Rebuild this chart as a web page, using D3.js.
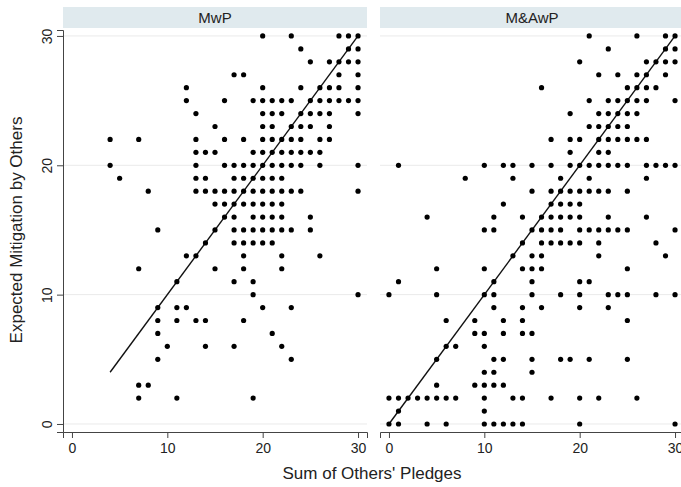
<!DOCTYPE html>
<html>
<head>
<meta charset="utf-8">
<script src="https://cdn.jsdelivr.net/npm/d3@7"></script>
<style>
  body { margin: 0; background: #fff; }
  svg text { font-family: "Liberation Sans", Arial, sans-serif; fill: #222; }
</style>
</head>
<body>
<div id="chart"></div>
<script>
// panel titles and the 45-degree reference line range in each
var panels = ["MwP", "M&AwP"];
var lineFrom = [4, 0];
var xTicks = [0, 10, 20, 30];
var yTicks = [0, 10, 20, 30];

// points per expected-mitigation value (y): list of pledge sums (x)
var mwpRows = {
  30: [20, 23, 28, 29, 30],
  29: [24, 29, 30],
  28: [25, 27, 28, 29, 30],
  27: [17, 18, 28, 30],
  26: [12, 20, 24, 26, 27, 28, 30],
  25: [12, 16, 19, 20, 21, 22, 23, 25, 26, 27, 28, 29, 30],
  24: [13, 20, 21, 22, 24, 25, 26, 27, 30],
  23: [15, 20, 21, 23, 24, 25, 27],
  22: [4, 7, 13, 16, 18, 20, 21, 22, 23, 24, 26, 27],
  21: [13, 14, 15, 19, 20, 21, 22, 23, 24, 25, 26],
  20: [4, 13, 16, 17, 18, 19, 20, 21, 22, 23, 24, 26, 30],
  19: [5, 13, 14, 17, 18, 19, 20, 21, 22],
  18: [8, 13, 14, 15, 16, 17, 18, 19, 20, 21, 22, 23, 24, 30],
  17: [15, 16, 17, 18, 19, 20, 21, 22],
  16: [16, 17, 19, 20, 21, 22, 25],
  15: [9, 15, 17, 18, 19, 20, 21, 22, 23, 25],
  14: [14, 17, 18, 19, 20, 21],
  13: [12, 13, 18, 22, 26],
  12: [7, 15, 18, 22],
  11: [11, 17, 19],
  10: [19, 30],
  9: [9, 11, 12, 20, 23],
  8: [9, 11, 13, 14, 18],
  7: [9, 21],
  6: [10, 14, 17, 22],
  5: [9, 23],
  3: [7, 8],
  2: [7, 11, 19]
};

var mawpRows = {
  30: [21, 26, 29, 30],
  29: [23, 29, 30],
  28: [20, 27, 28, 29, 30],
  27: [22, 24, 26, 27, 29],
  26: [16, 25, 26, 27, 28],
  25: [21, 23, 24, 25, 26, 27, 30],
  24: [19, 22, 23, 24, 25, 26],
  23: [21, 22, 23, 24, 25],
  22: [17, 19, 20, 22, 23, 24, 25, 26, 27],
  21: [19, 22, 23],
  20: [1, 10, 12, 13, 15, 17, 19, 20, 21, 22, 23, 24, 25, 27, 28, 29, 30],
  19: [8, 13, 18, 21, 27],
  18: [15, 17, 18, 19, 20, 21, 22, 23, 25],
  17: [12, 17, 18, 19, 20],
  16: [4, 11, 14, 16, 17, 18, 19, 20, 23, 27],
  15: [10, 11, 15, 16, 17, 18, 20, 21, 22, 23, 24, 25, 30],
  14: [14, 16, 17, 18, 19, 20, 22, 28],
  13: [13, 15, 16, 22, 29],
  12: [5, 10, 14, 15, 16, 25],
  11: [1, 11, 15, 20, 21],
  10: [0, 5, 10, 11, 15, 18, 20, 23, 24, 25, 28, 30],
  9: [11, 14, 16, 20, 23],
  8: [6, 9, 12, 14, 25],
  7: [9, 10, 12, 14, 15],
  6: [6, 7, 10],
  5: [5, 11, 12, 15, 18, 19, 21, 25],
  4: [10, 11, 15],
  3: [5, 9, 10, 11, 12],
  2: [0, 1, 2, 3, 4, 5, 6, 7, 10, 13, 14, 17, 20, 22, 26],
  1: [1, 10],
  0: [0, 1, 4, 6, 10, 11, 12, 13, 14, 20, 30]
};

var panelRows = [mwpRows, mawpRows];

// turn the row lists into point objects
function toPoints(rows) {
  var pts = [];
  Object.keys(rows).forEach(function(k) {
    rows[k].forEach(function(x) { pts.push({ x: x, y: +k }); });
  });
  return pts;
}

var width = 681, height = 487;
var panelLeft = [63, 380];
var panelW = 304;
var plotTop = 30, plotBottom = 432;

var svg = d3.select("#chart").append("svg")
  .attr("width", width)
  .attr("height", height);

var x = d3.scaleLinear().domain([-0.94, 30.94]).range([0, panelW]);
var y = d3.scaleLinear().domain([-0.62, 30.46]).range([plotBottom, plotTop]);

panels.forEach(function(name, i) {
  var g = svg.append("g").attr("transform", "translate(" + panelLeft[i] + ",0)");

  // header strip
  g.append("rect")
    .attr("x", 0).attr("y", 7)
    .attr("width", panelW).attr("height", 21)
    .attr("fill", "#e0eaee");
  g.append("text")
    .attr("x", panelW / 2).attr("y", 23)
    .attr("text-anchor", "middle")
    .style("font-size", "15px")
    .text(name);

  // horizontal grid lines
  g.selectAll(".grid")
    .data(yTicks)
    .enter().append("line")
    .attr("class", "grid")
    .attr("x1", 0).attr("x2", panelW)
    .attr("y1", function(d) { return y(d); })
    .attr("y2", function(d) { return y(d); })
    .attr("stroke", "#eaeaea")
    .attr("stroke-width", 1);

  // x axis
  var xAxis = g.append("g")
    .attr("transform", "translate(0," + plotBottom + ")")
    .call(d3.axisBottom(x).tickValues(xTicks).tickSize(6).tickPadding(5));
  xAxis.select(".domain").attr("stroke", "#444");
  xAxis.selectAll(".tick line").attr("stroke", "#444");
  xAxis.selectAll("text")
    .style("font-size", "14px")
    .style("font-family", "'Liberation Sans', Arial, sans-serif")
    .attr("fill", "#222");

  // y axis only on the first panel
  if (i === 0) {
    var yAxis = g.append("g")
      .call(d3.axisLeft(y).tickValues(yTicks).tickSize(6));
    yAxis.select(".domain").attr("stroke", "#444");
    yAxis.selectAll(".tick line").attr("stroke", "#444");
    yAxis.selectAll("text")
      .style("font-size", "14px")
      .style("font-family", "'Liberation Sans', Arial, sans-serif")
      .attr("fill", "#222")
      .attr("text-anchor", "middle")
      .attr("transform", "rotate(-90)")
      .attr("x", 0)
      .attr("y", -11)
      .attr("dy", "0");
  }

  // 45 degree line
  g.append("line")
    .attr("x1", x(lineFrom[i])).attr("y1", y(lineFrom[i]))
    .attr("x2", x(30)).attr("y2", y(30))
    .attr("stroke", "#111")
    .attr("stroke-width", 1.4);

  // points
  g.selectAll(".dot")
    .data(toPoints(panelRows[i]))
    .enter().append("circle")
    .attr("class", "dot")
    .attr("cx", function(d) { return x(d.x); })
    .attr("cy", function(d) { return y(d.y); })
    .attr("r", 2.6)
    .attr("fill", "#000");
});

// axis titles
svg.append("text")
  .attr("x", 372).attr("y", 479)
  .attr("text-anchor", "middle")
  .style("font-size", "17px")
  .text("Sum of Others' Pledges");

svg.append("text")
  .attr("transform", "translate(22,230) rotate(-90)")
  .attr("text-anchor", "middle")
  .style("font-size", "17px")
  .text("Expected Mitigation by Others");
</script>
</body>
</html>
